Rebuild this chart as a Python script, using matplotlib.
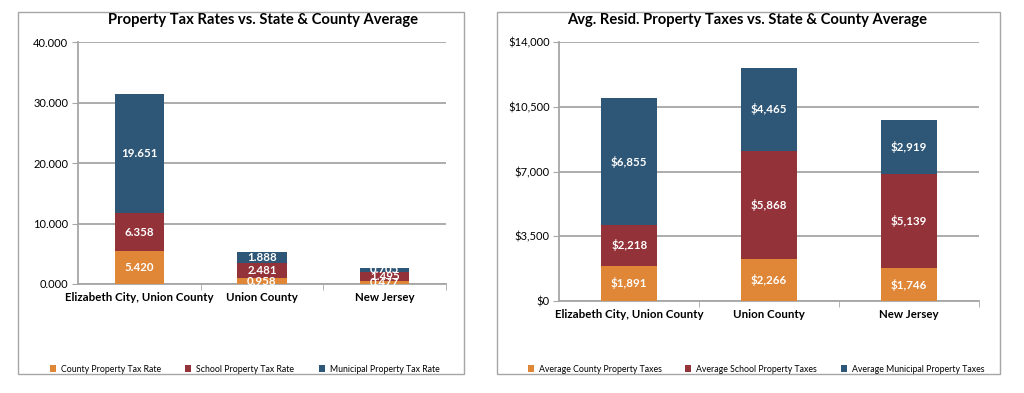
import matplotlib
matplotlib.use("Agg")
import matplotlib.pyplot as plt
from matplotlib.patches import Rectangle, Patch
from matplotlib.ticker import FuncFormatter, FixedLocator
import numpy as np

plt.rcParams['font.family'] = ['Lato', 'DejaVu Sans']

categories = ["Elizabeth City, Union County", "Union County", "New Jersey"]

# Left chart: tax rates
rate_county = [5.420, 0.958, 0.477]
rate_school = [6.358, 2.481, 1.495]
rate_municipal = [19.651, 1.888, 0.705]
rate_labels = ["County Property Tax Rate", "School Property Tax Rate", "Municipal Property Tax Rate"]
rate_ticks = [0, 10, 20, 30, 40]

# Right chart: average residential taxes
tax_county = [1891, 2266, 1746]
tax_school = [2218, 5868, 5139]
tax_municipal = [6855, 4465, 2919]
tax_labels = ["Average County Property Taxes", "Average School Property Taxes", "Average Municipal Property Taxes"]
tax_ticks = [0, 3500, 7000, 10500, 14000]

colors = ["#E08637", "#94323A", "#2E5676"]
grid_color = "#A6A6A6"

W, H = 1024, 393
fig = plt.figure(figsize=(W / 100, H / 100), dpi=100)

def fx(px):
    return px / W

def fy(py):
    return 1 - py / H

# panel borders
for (x0, y0, x1, y1) in [(18, 12, 464, 374), (497, 12, 1000, 374)]:
    fig.patches.append(Rectangle((fx(x0), fy(y1)), fx(x1) - fx(x0), fy(y0) - fy(y1),
                                 transform=fig.transFigure, fill=False,
                                 edgecolor=grid_color, linewidth=1.0))

def draw(ax, series, ticks, fmt, lblfmt, title, title_x, legend_labels, leg_xs):
    x = np.arange(len(categories))
    bottom = np.zeros(len(categories))
    for vals, c, lab, lx in zip(series, colors, legend_labels, leg_xs):
        vals = np.array(vals, dtype=float)
        ax.bar(x, vals, bottom=bottom, width=0.4, color=c, zorder=3)
        for xi, b, v in zip(x, bottom, vals):
            ax.text(xi, b + v / 2, lblfmt(v), ha='center', va='center', color='white',
                    fontsize=8.3, fontweight='bold', zorder=4)
        bottom += vals
        fig.legend(handles=[Patch(facecolor=c, label=lab)], loc='center left',
                   bbox_to_anchor=(fx(lx), fy(369)), frameon=False, fontsize=6.3,
                   handlelength=0.7, handleheight=0.7, handletextpad=0.6,
                   borderaxespad=0, borderpad=0)
    ax.set_xlim(-0.5, len(categories) - 0.5)
    ax.set_ylim(ticks[0], ticks[-1])
    ax.set_yticks(ticks)
    ax.yaxis.set_major_formatter(FuncFormatter(fmt))
    ax.grid(axis='y', color=grid_color, linewidth=1.3, zorder=0)
    for s in ['top', 'right']:
        ax.spines[s].set_visible(False)
    for s in ['left', 'bottom']:
        ax.spines[s].set_color(grid_color)
        ax.spines[s].set_linewidth(1.3)
    ax.tick_params(axis='y', length=4, color=grid_color, labelsize=8, pad=3)
    ax.set_xticks(x)
    ax.set_xticklabels(categories, fontsize=8.3, fontweight='bold')
    ax.tick_params(axis='x', length=0, pad=6)
    ax.xaxis.set_minor_locator(FixedLocator([0.5, 1.5, 2.5]))
    ax.tick_params(axis='x', which='minor', length=4, color=grid_color)
    fig.text(fx(title_x), fy(20), title, ha='center', va='center', fontsize=10.6, fontweight='bold')

ax1 = fig.add_axes([fx(78), fy(284), fx(446) - fx(78), fy(42.3) - fy(284)])
draw(ax1, [rate_county, rate_school, rate_municipal], rate_ticks,
     lambda v, p: f"{v:.3f}", lambda v: f"{v:.3f}",
     "Property Tax Rates vs. State & County Average", 263, rate_labels, [50, 185, 319])

ax2 = fig.add_axes([fx(559.3), fy(300.7), fx(979) - fx(559.3), fy(42.3) - fy(300.7)])
draw(ax2, [tax_county, tax_school, tax_municipal], tax_ticks,
     lambda v, p: f"${v:,.0f}", lambda v: f"${v:,.0f}",
     "Avg. Resid. Property Taxes vs. State & County Average", 747, tax_labels, [528, 685, 841])

fig.savefig("out.png", dpi=100)
